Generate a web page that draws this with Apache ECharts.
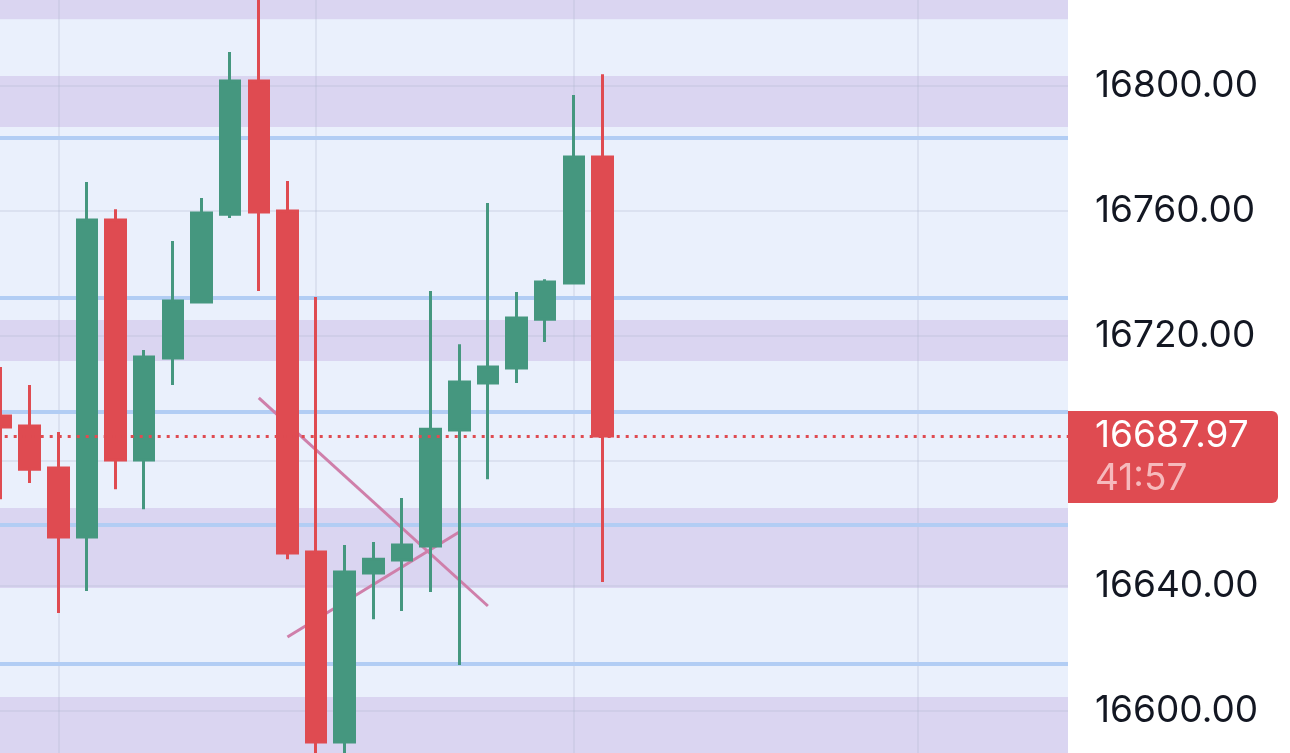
<!DOCTYPE html>
<html>
<head>
<meta charset="utf-8">
<script src="https://cdn.jsdelivr.net/npm/echarts@6/dist/echarts.min.js"></script>
<style>
  html, body { margin: 0; padding: 0; background: #fff; }
  #main { width: 1290px; height: 753px; }
</style>
</head>
<body>
<div id="main"></div>
<script>
// candle values (oldest first)
const opens  = [16694.4, 16691.2, 16677.8, 16655.7, 16757.1, 16680.3, 16713.0, 16730.9, 16759.0, 16801.6, 16760.0,
                16650.9, 16590.1, 16644.2, 16648.3, 16652.8, 16689.9, 16705.0, 16709.8, 16725.4, 16737.0, 16777.3];
const closes = [16690.9, 16677.4, 16655.7, 16757.1, 16680.3, 16713.3, 16731.2, 16759.4, 16801.6, 16759.7, 16650.6,
                16590.1, 16644.5, 16648.6, 16653.1, 16690.2, 16705.3, 16710.1, 16725.8, 16737.3, 16777.3, 16687.97];
const lows   = [16667.8, 16673.0, 16631.4, 16638.4, 16671.0, 16664.6, 16704.3, 16730.6, 16757.8, 16734.4, 16648.6,
                16580.0, 16580.0, 16629.4, 16632.0, 16638.1, 16614.7, 16674.2, 16705.0, 16718.1, 16736.8, 16641.3];
const highs  = [16710.1, 16704.3, 16689.3, 16769.3, 16760.6, 16715.5, 16750.4, 16764.2, 16810.9, 16835.0, 16769.6,
                16732.5, 16653.1, 16654.1, 16668.2, 16734.4, 16717.4, 16762.6, 16734.1, 16738.2, 16797.1, 16803.8];

const lastPrice = 16687.97;
const countdown = '41:57';

// price scale and levels
const yMin = 16586.56;
const yMax = 16827.52;
const tickValues = [16600, 16640, 16680, 16720, 16760, 16800];
const timeGridSlots = [2, 11, 20, 32];
const bandLows  = [16821.4, 16786.9, 16712.0, 16639.4, yMin];
const bandHighs = [yMax,    16803.2, 16725.1, 16665.0, 16604.5];
const blueLevels = [16783.4, 16732.2, 16695.7, 16659.5, 16615.0];
// two drawn trend lines: [slot, price] pairs
const trendA = [[9, 16700.2], [17, 16633.6]];
const trendB = [[10, 16623.7], [16, 16657.3]];

const slotCount = 38;

const UP = '#45977F';
const DOWN = '#DF4B51';
const FONT = 'Inter';

let slots = [];
for (let i = 0; i < slotCount; i++) slots.push(i);

let candles = [];
for (let i = 0; i < opens.length; i++) {
  candles.push([opens[i], closes[i], lows[i], highs[i]]);
}

const chart = echarts.init(document.getElementById('main'));

const option = {
  animation: false,
  backgroundColor: '#ffffff',
  grid: {
    left: -13.3,
    top: 0,
    bottom: 0,
    right: 215,
    show: true,
    backgroundColor: '#EAF0FC',
    borderWidth: 0,
    containLabel: false,
    outerBoundsMode: 'none'
  },
  xAxis: {
    type: 'category',
    data: slots,
    show: false
  },
  yAxis: {
    type: 'value',
    position: 'right',
    min: yMin,
    max: yMax,
    axisLine: { show: false },
    axisTick: { show: false },
    splitLine: { show: false },
    axisLabel: {
      customValues: tickValues,
      formatter: function (v) { return v.toFixed(2); },
      color: '#131722',
      fontSize: 37,
      fontFamily: FONT,
      margin: 20
    }
  },
  series: [
    {
      // background bands
      type: 'line',
      data: [],
      z: 1,
      markArea: {
        silent: true,
        z: 1,
        itemStyle: { color: '#DAD5F1' },
        data: bandLows.map((lo, i) => [{ yAxis: lo }, { yAxis: bandHighs[i] }])
      }
    },
    {
      // grid lines
      type: 'line',
      data: [],
      z: 2,
      markLine: {
        silent: true,
        z: 2,
        symbol: ['none', 'none'],
        label: { show: false },
        lineStyle: { color: 'rgba(170,178,205,0.24)', width: 2, type: 'solid' },
        data: tickValues.map(v => ({ yAxis: v })).concat(timeGridSlots.map(s => ({ xAxis: s })))
      }
    },
    {
      // horizontal levels
      type: 'line',
      data: [],
      z: 3,
      markLine: {
        silent: true,
        z: 3,
        symbol: ['none', 'none'],
        label: { show: false },
        lineStyle: { color: '#B2CDF4', width: 4, type: 'solid' },
        data: blueLevels.map(v => ({ yAxis: v }))
      }
    },
    {
      type: 'line',
      data: trendA,
      z: 4,
      symbol: 'none',
      silent: true,
      lineStyle: { color: '#CF7FAA', width: 3 }
    },
    {
      type: 'line',
      data: trendB,
      z: 4,
      symbol: 'none',
      silent: true,
      lineStyle: { color: '#CF7FAA', width: 3 }
    },
    {
      type: 'candlestick',
      data: candles,
      z: 5,
      barWidth: 20,
      clip: true,
      itemStyle: {
        color: UP,
        color0: DOWN,
        borderColor: UP,
        borderColor0: DOWN,
        borderWidth: 3
      },
      markLine: {
        silent: true,
        z: 6,
        symbol: ['none', 'none'],
        label: { show: false },
        lineStyle: { color: DOWN, width: 3, type: [3, 6] },
        data: [{ yAxis: lastPrice }]
      }
    }
  ]
};

chart.setOption(option);

// right edge of the plot + last price tag
const gridRect = chart.getModel().getComponent('grid').coordinateSystem.getRect();
const plotEnd = 1068;
const py = chart.convertToPixel({ yAxisIndex: 0 }, lastPrice);

chart.setOption({
  graphic: [
    {
      type: 'rect',
      z: 100,
      shape: { x: plotEnd, y: 0, width: gridRect.x + gridRect.width - plotEnd + 2, height: 753 },
      style: { fill: '#ffffff' }
    },
    {
      type: 'rect',
      z: 101,
      shape: { x: plotEnd, y: py - 25, width: 210, height: 92, r: [0, 6, 6, 0] },
      style: { fill: DOWN }
    },
    {
      type: 'text',
      z: 102,
      x: 1095,
      y: py,
      style: {
        text: lastPrice.toFixed(2),
        fill: '#ffffff',
        font: '37px ' + FONT,
        verticalAlign: 'middle'
      }
    },
    {
      type: 'text',
      z: 102,
      x: 1095,
      y: py + 42.5,
      style: {
        text: countdown,
        fill: '#F6B9BC',
        font: '37px ' + FONT,
        verticalAlign: 'middle'
      }
    }
  ]
});
</script>
</body>
</html>
